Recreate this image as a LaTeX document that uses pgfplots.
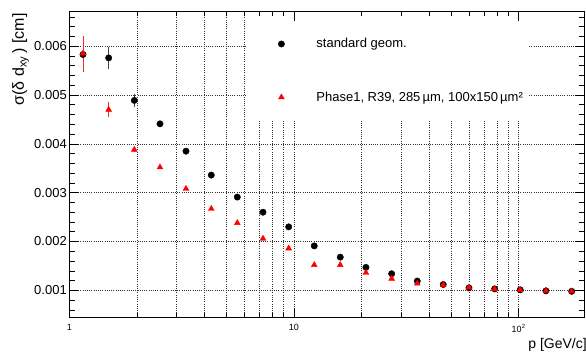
\documentclass[border=0pt]{standalone}
\usepackage{pgfplots}
\pgfplotsset{compat=1.18}
\usepackage{fontspec}
\setmainfont{Liberation Sans}
\pgfdeclarelayer{gridmask}
\pgfplotsset{
  layers/masked/.define layer set={
    axis background, axis grid, gridmask, axis ticks, axis lines,
    axis tick labels, pre main, main, axis descriptions, axis foreground
  }{/pgfplots/layers/standard},
}
\definecolor{rootred}{RGB}{255,0,0}
\begin{document}
\begin{tikzpicture}
\begin{axis}[
  set layers=masked,
  clip=false,
  scale only axis,
  width=515.5pt, height=305.7pt,
  xmode=log, xmin=1, xmax=197,
  ymin=0.00044, ymax=0.0067,
  xtick={1,10,100},
  xticklabels={1,10,10\textsuperscript{2}},
  minor xtick={2,3,4,5,6,7,8,9,20,30,40,50,60,70,80,90},
  ytick={0.001,0.002,0.003,0.004,0.005,0.006},
  yticklabels={0.001,0.002,0.003,0.004,0.005,0.006},
  minor ytick={0.0006,0.0008,0.0012,0.0014,0.0016,0.0018,0.0022,0.0024,0.0026,0.0028,0.0032,0.0034,0.0036,0.0038,0.0042,0.0044,0.0046,0.0048,0.0052,0.0054,0.0056,0.0058,0.0062,0.0064,0.0066},
  scaled y ticks=false,
  tick align=inside,
  xtick pos=both, ytick pos=both,
  xtick style={/pgfplots/major tick length=9pt,/pgfplots/minor tick length=4.5pt},
  ytick style={/pgfplots/major tick length=10pt,/pgfplots/minor tick length=6pt},
  every tick/.style={black, line width=0.6pt},
  axis line style={line width=1pt},
  xmajorgrids, xminorgrids, ymajorgrids,
  grid style={black!80, line width=0.5pt, dash pattern=on 1pt off 1.2pt},
  minor grid style={black!80, line width=0.5pt, dash pattern=on 1pt off 1.2pt},
  yticklabel style={font=\fontsize{13}{15}\selectfont, xshift=1pt},
  xticklabel style={font=\fontsize{9}{11}\selectfont, yshift=-3pt},
  xlabel={p [GeV/c]},
  xlabel style={font=\fontsize{14}{17}\selectfont, at={(rel axis cs:1,0)}, anchor=base east, yshift=-30.3pt, xshift=5.5pt},
  legend cell align=left,
  legend style={draw=none, fill=none, font=\fontsize{13}{15}\selectfont,
    at={(rel axis cs:0.3975,0.927)}, anchor=north west, row sep=38.4pt},
  legend image code/.code={\path[draw=none,fill=none] (-4pt,0pt) -- (33pt,0pt);
    \draw[#1,only marks] plot coordinates {(0pt,0pt)};},
]
\begin{pgfonlayer}{gridmask}
\fill[white] (axis cs:6.09,0.00448) rectangle (axis cs:111,0.0067);
\end{pgfonlayer}
\coordinate (BL) at (rel axis cs:0,0);
\coordinate (TR) at (rel axis cs:1,1);
\node[font=\fontsize{16}{19}\selectfont, rotate=90, anchor=base east]
  at ([xshift=-45.3pt,yshift=2pt]rel axis cs:0,1) {σ(δ d\textsubscript{xy}\,) [cm]};

\addplot[only marks, mark=*, mark size=3.2pt, black,
  error bars/.cd, y dir=both, y explicit, error mark=none,
  error bar style={black!75, line width=1pt}]
  table[x=x, y=y, y error=e] {
x y e
1.151 0.00583 0.00035
1.497 0.00576 0.00023
1.947 0.00489 0.00013
2.533 0.00441 0.00006
3.306 0.00385 0.00003
4.285 0.00336 0.00002
5.594 0.00291 0.00002
7.278 0.00260 0.00002
9.471 0.00230 0.00002
12.31 0.00191 0.00001
16.07 0.00168 0.00001
20.91 0.00147 0.00001
27.21 0.00134 0.00001
35.38 0.00119 0.00001
46.17 0.00112 0.00001
60.09 0.00105 0.00001
78.19 0.00103 0.00001
101.6 0.00101 0.00001
132.3 0.00099 0.00001
172.2 0.00098 0.00001
};
\addlegendentry{standard geom.}

\addplot[only marks, mark=triangle*, mark size=3.4pt, rootred,
  error bars/.cd, y dir=both, y explicit, error mark=none,
  error bar style={rootred!85, line width=1pt}]
  table[x=x, y=y, y error=e] {
x y e
1.151 0.00585 0.00035
1.497 0.00470 0.00015
1.947 0.00388 0.00005
2.533 0.00352 0.00003
3.306 0.00308 0.00002
4.285 0.00267 0.00002
5.594 0.00238 0.00002
7.278 0.00206 0.00002
9.471 0.00186 0.00002
12.31 0.00152 0.00001
16.07 0.00152 0.00001
20.91 0.00136 0.00001
27.21 0.00124 0.00001
35.38 0.00114 0.00001
46.17 0.00111 0.00001
60.09 0.00106 0.00001
78.19 0.00103 0.00001
101.6 0.00101 0.00001
132.3 0.00099 0.00001
172.2 0.00098 0.00001
};
\addlegendentry{Phase1, R39, 285\,µm, 100x150\,µm²}
\end{axis}
\pgfresetboundingbox
\path ([xshift=-69.3pt,yshift=-38.3pt]BL) rectangle ([xshift=1.2pt,yshift=12pt]TR);
\end{tikzpicture}
\end{document}
